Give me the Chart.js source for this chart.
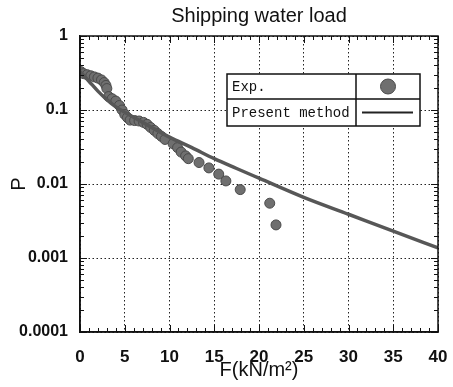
<!DOCTYPE html>
<html>
<head>
<meta charset="utf-8">
<title>Shipping water load</title>
<script src="https://cdn.jsdelivr.net/npm/chart.js"></script>
<style>
  html, body { margin: 0; padding: 0; background: #fff; }
  #wrap { width: 453px; height: 387px; }
</style>
</head>
<body>
<div id="wrap"><canvas id="loadChart"></canvas></div>
<script>
// measured exceedance probability P vs. load F
const expF = [0.1, 0.4, 0.8, 1.2, 1.6, 2.0, 2.4, 2.7, 2.9, 3.0,
              3.2, 3.6, 4.0, 4.4, 4.7, 5.0, 5.3, 5.6, 6.1, 6.6,
              7.1, 7.5, 7.9, 8.3, 8.7, 9.1, 9.5, 10.4, 10.9, 11.3,
              11.8, 12.1, 13.3, 14.4, 15.5, 16.3, 17.9, 21.2, 21.9];
const expP = [0.33, 0.31, 0.30, 0.29, 0.28, 0.27, 0.255, 0.235, 0.215, 0.195,
              0.152, 0.142, 0.132, 0.115, 0.1, 0.087, 0.079, 0.073, 0.072, 0.071,
              0.068, 0.064, 0.058, 0.053, 0.048, 0.044, 0.040, 0.035, 0.031, 0.027,
              0.024, 0.022, 0.0195, 0.0165, 0.0136, 0.011, 0.0084, 0.0055, 0.0028];

// present method curve
const calcF = [0, 1, 2, 3, 4, 5, 7.5, 10, 12.5, 15, 17.5, 20, 25, 30, 35, 40];
const calcP = [0.33, 0.245, 0.18, 0.138, 0.11, 0.093, 0.063, 0.043, 0.031, 0.022,
               0.0162, 0.012, 0.0066, 0.0039, 0.0023, 0.00137];

const xTicks = [0, 5, 10, 15, 20, 25, 30, 35, 40];
const yTicks = [0.0001, 0.001, 0.01, 0.1, 1];
const yTickLabels = ['0.0001', '0.001', '0.01', '0.1', '1'];
const legendLabels = ['Exp.', 'Present method'];

const DOT_FILL = '#6f6f6f';
const DOT_EDGE = '#4a4a4a';
const LINE_COLOR = '#575757';
const SANS = '"Liberation Sans", Arial, sans-serif';

// frame + inward tick marks (major and minor)
const frameTicks = {
    id: 'frameTicks',
    afterDatasetsDraw(chart) {
        const { ctx, chartArea: a, scales: { x, y } } = chart;
        ctx.save();
        ctx.strokeStyle = '#111';
        ctx.lineWidth = 1;
        ctx.beginPath();
        for (let v = x.min; v <= x.max; v++) {
            const px = Math.round(x.getPixelForValue(v)) + 0.5;
            const len = v % 5 === 0 ? 7 : 4;
            ctx.moveTo(px, a.bottom); ctx.lineTo(px, a.bottom - len);
            ctx.moveTo(px, a.top); ctx.lineTo(px, a.top + len);
        }
        for (let d = 0; d < yTicks.length - 1; d++) {
            for (let k = 2; k <= 9; k++) {
                const py = Math.round(y.getPixelForValue(yTicks[d] * k)) + 0.5;
                ctx.moveTo(a.left, py); ctx.lineTo(a.left + 4, py);
                ctx.moveTo(a.right, py); ctx.lineTo(a.right - 4, py);
            }
        }
        yTicks.forEach(v => {
            const py = Math.round(y.getPixelForValue(v)) + 0.5;
            ctx.moveTo(a.left, py); ctx.lineTo(a.left + 7, py);
            ctx.moveTo(a.right, py); ctx.lineTo(a.right - 7, py);
        });
        ctx.stroke();
        ctx.lineWidth = 1.5;
        ctx.strokeRect(a.left, a.top, a.right - a.left, a.bottom - a.top);
        ctx.restore();
    }
};

// boxed legend table in the upper right
const boxLegend = {
    id: 'boxLegend',
    afterDraw(chart) {
        const { ctx } = chart;
        const L = 227, T = 74, R = 420, B = 126, midY = 99, midX = 356;
        ctx.save();
        ctx.fillStyle = '#fff';
        ctx.fillRect(L, T, R - L, B - T);
        ctx.strokeStyle = '#111';
        ctx.lineWidth = 1.5;
        ctx.strokeRect(L, T, R - L, B - T);
        ctx.beginPath();
        ctx.moveTo(L, midY); ctx.lineTo(R, midY);
        ctx.moveTo(midX, T); ctx.lineTo(midX, B);
        ctx.stroke();

        ctx.fillStyle = '#111';
        ctx.font = '14px "Liberation Mono", monospace';
        ctx.textBaseline = 'middle';
        ctx.fillText(legendLabels[0], L + 5, (T + midY) / 2 + 1);
        ctx.fillText(legendLabels[1], L + 5, (midY + B) / 2 + 1);

        const cx = (midX + R) / 2;
        ctx.beginPath();
        ctx.arc(cx, (T + midY) / 2, 7.5, 0, Math.PI * 2);
        ctx.fillStyle = DOT_FILL;
        ctx.fill();
        ctx.strokeStyle = DOT_EDGE;
        ctx.lineWidth = 1;
        ctx.stroke();

        ctx.beginPath();
        ctx.moveTo(midX + 6, (midY + B) / 2);
        ctx.lineTo(R - 7, (midY + B) / 2);
        ctx.strokeStyle = '#222';
        ctx.lineWidth = 2;
        ctx.stroke();
        ctx.restore();
    }
};

function renderChart() {
    const ctx = document.getElementById('loadChart').getContext('2d');
    const tickFont = { family: SANS, size: 16, weight: 'bold' };

    new Chart(ctx, {
        type: 'scatter',
        data: {
            datasets: [{
                label: legendLabels[1],
                type: 'line',
                data: calcF.map((f, i) => ({ x: f, y: calcP[i] })),
                borderColor: LINE_COLOR,
                borderWidth: 3.5,
                pointRadius: 0,
                cubicInterpolationMode: 'monotone',
                fill: false,
                order: 1
            }, {
                label: legendLabels[0],
                data: expF.map((f, i) => ({ x: f, y: expP[i] })),
                backgroundColor: DOT_FILL,
                borderColor: DOT_EDGE,
                borderWidth: 1,
                pointRadius: 5,
                order: 2
            }]
        },
        options: {
            responsive: true,
            maintainAspectRatio: false,
            animation: false,
            devicePixelRatio: 1,
            layout: { padding: { left: 0, right: 15, top: 0, bottom: 0 } },
            plugins: {
                legend: { display: false },
                tooltip: { enabled: false },
                title: {
                    display: true,
                    fullSize: false,
                    text: 'Shipping water load',
                    color: '#111',
                    font: { family: SANS, size: 20, weight: 'normal' },
                    padding: { top: 4, bottom: 8 }
                }
            },
            scales: {
                x: {
                    type: 'linear',
                    min: 0,
                    max: 40,
                    afterBuildTicks: s => { s.ticks = xTicks.map(v => ({ value: v })); },
                    afterFit: s => { s.height = 55; s.paddingLeft = 0; s.paddingRight = 0; },
                    ticks: { color: '#111', font: { family: SANS, size: 17, weight: 'bold' }, padding: 15, maxRotation: 0 },
                    grid: { color: '#222', lineWidth: 1, drawTicks: false },
                    border: { display: true, color: '#111', width: 1.5, dash: [1.5, 2.5] },
                    title: {
                        display: true,
                        text: 'F(kN/m²)',
                        color: '#111',
                        font: { family: SANS, size: 20 },
                        padding: { top: 0, bottom: 5 }
                    }
                },
                y: {
                    type: 'logarithmic',
                    min: 0.0001,
                    max: 1,
                    afterBuildTicks: s => { s.ticks = yTicks.map(v => ({ value: v })); },
                    afterFit: s => { s.width = 80; },
                    ticks: {
                        color: '#111',
                        font: tickFont,
                        padding: 12,
                        callback: (v, i) => yTickLabels[i]
                    },
                    grid: { color: '#222', lineWidth: 1, drawTicks: false },
                    border: { display: true, color: '#111', width: 1.5, dash: [1.5, 2.5] },
                    title: {
                        display: true,
                        text: 'P',
                        color: '#111',
                        font: { family: SANS, size: 20 },
                        padding: { top: 7, bottom: 0 }
                    }
                }
            }
        },
        plugins: [frameTicks, boxLegend]
    });
}

window.onload = renderChart;
</script>
</body>
</html>
